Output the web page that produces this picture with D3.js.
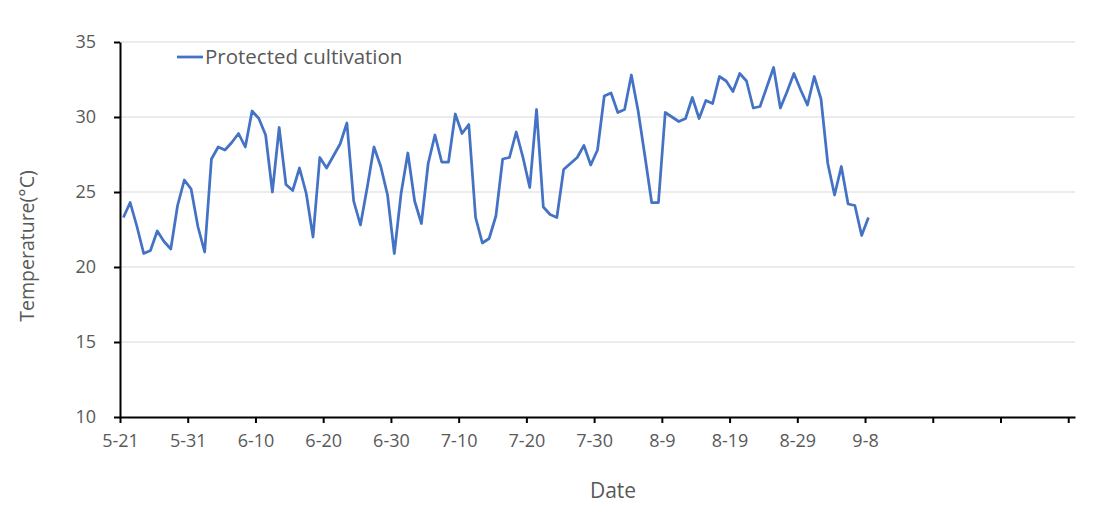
<!DOCTYPE html>
<html>
<head>
<meta charset="utf-8">
<script src="https://cdn.jsdelivr.net/npm/d3@7"></script>
<style>
  body { margin: 0; background: #fff; }
  text { font-family: 'Open Sans', 'Noto Sans', sans-serif; fill: #595959; }
</style>
</head>
<body>
<script>
const WIDTH = 1112
const HEIGHT = 507

// daily temperature from 5-21 to 9-8
const temps = [
  23.3, 24.3, 22.7, 20.9, 21.1, 22.4, 21.7, 21.2, 24.1, 25.8,
  25.2, 22.7, 21.0, 27.2, 28.0, 27.8, 28.3, 28.9, 28.0, 30.4,
  29.9, 28.8, 25.0, 29.3, 25.5, 25.1, 26.6, 24.9, 22.0, 27.3,
  26.6, 27.4, 28.2, 29.6, 24.4, 22.8, 25.3, 28.0, 26.7, 24.8,
  20.9, 24.9, 27.6, 24.4, 22.9, 26.9, 28.8, 27.0, 27.0, 30.2,
  28.9, 29.5, 23.3, 21.6, 21.9, 23.4, 27.2, 27.3, 29.0, 27.3,
  25.3, 30.5, 24.0, 23.5, 23.3, 26.5, 26.9, 27.3, 28.1, 26.8,
  27.8, 31.4, 31.6, 30.3, 30.5, 32.8, 30.4, 27.4, 24.3, 24.3,
  30.3, 30.0, 29.7, 29.9, 31.3, 29.9, 31.1, 30.9, 32.7, 32.4,
  31.7, 32.9, 32.4, 30.6, 30.7, 32.0, 33.3, 30.6, 31.7, 32.9,
  31.8, 30.8, 32.7, 31.2, 26.9, 24.8, 26.7, 24.2, 24.1, 22.1,
  23.3
]
const tickLabels = ['5-21', '5-31', '6-10', '6-20', '6-30', '7-10', '7-20', '7-30',
  '8-9', '8-19', '8-29', '9-8', '', '', '']
const yTicks = [10, 15, 20, 25, 30, 35]
const seriesName = 'Protected cultivation'

const plotLeft = 120
const plotRight = 1075
const plotTop = 42
const plotBottom = 417

const x = d3.scaleLinear().domain([0, 141]).range([plotLeft, plotRight])
const y = d3.scaleLinear().domain([10, 35]).range([plotBottom, plotTop])

const svg = d3.select(document.body).append('svg')
  .attr('width', WIDTH)
  .attr('height', HEIGHT)

// grid
svg.append('g').selectAll('line')
  .data(yTicks.slice(1))
  .enter()
  .append('line')
  .attr('x1', plotLeft)
  .attr('x2', plotRight)
  .attr('y1', d => y(d))
  .attr('y2', d => y(d))
  .attr('stroke', '#d9d9d9')
  .attr('stroke-width', 1)

// y axis
const yAxis = svg.append('g')
  .attr('transform', `translate(${plotLeft},0)`)
  .call(d3.axisLeft(y).tickValues(yTicks).tickSize(6).tickPadding(18).tickSizeOuter(0))
yAxis.select('.domain').attr('stroke', '#000').attr('stroke-width', 2)
yAxis.selectAll('.tick line').attr('stroke', '#000').attr('stroke-width', 2)
yAxis.selectAll('.tick text').attr('font-size', 18).style('fill', '#595959')
  .style('font-family', "'Open Sans', sans-serif")

// x axis
const xTickVals = d3.range(0, 141, 10)
const xAxis = svg.append('g')
  .attr('transform', `translate(0,${plotBottom})`)
  .call(d3.axisBottom(x).tickValues(xTickVals).tickSize(6).tickPadding(11).tickSizeOuter(0)
    .tickFormat((d, i) => tickLabels[i]))
xAxis.select('.domain').attr('stroke', '#000').attr('stroke-width', 2)
xAxis.selectAll('.tick line').attr('stroke', '#000').attr('stroke-width', 2)
xAxis.selectAll('.tick text').attr('font-size', 18).style('fill', '#595959')
  .style('font-family', "'Open Sans', sans-serif")

// line
const line = d3.line()
  .x((d, i) => x(i + 0.5))
  .y(d => y(d))
svg.append('path')
  .datum(temps)
  .attr('d', line)
  .attr('fill', 'none')
  .attr('stroke', '#4472c4')
  .attr('stroke-width', 2.75)
  .attr('stroke-linejoin', 'round')

// legend
svg.append('line')
  .attr('x1', 177).attr('x2', 203)
  .attr('y1', 57).attr('y2', 57)
  .attr('stroke', '#4472c4')
  .attr('stroke-width', 2.75)
svg.append('text')
  .attr('x', 205).attr('y', 64)
  .attr('font-size', 20.5)
  .text(seriesName)

// axis titles
svg.append('text')
  .attr('transform', 'translate(34,246) rotate(-90)')
  .attr('text-anchor', 'middle')
  .attr('font-size', 19.5)
  .text('Temperature(°C)')
svg.append('text')
  .attr('x', 613).attr('y', 498)
  .attr('text-anchor', 'middle')
  .attr('font-size', 21)
  .text('Date')
</script>
</body>
</html>
